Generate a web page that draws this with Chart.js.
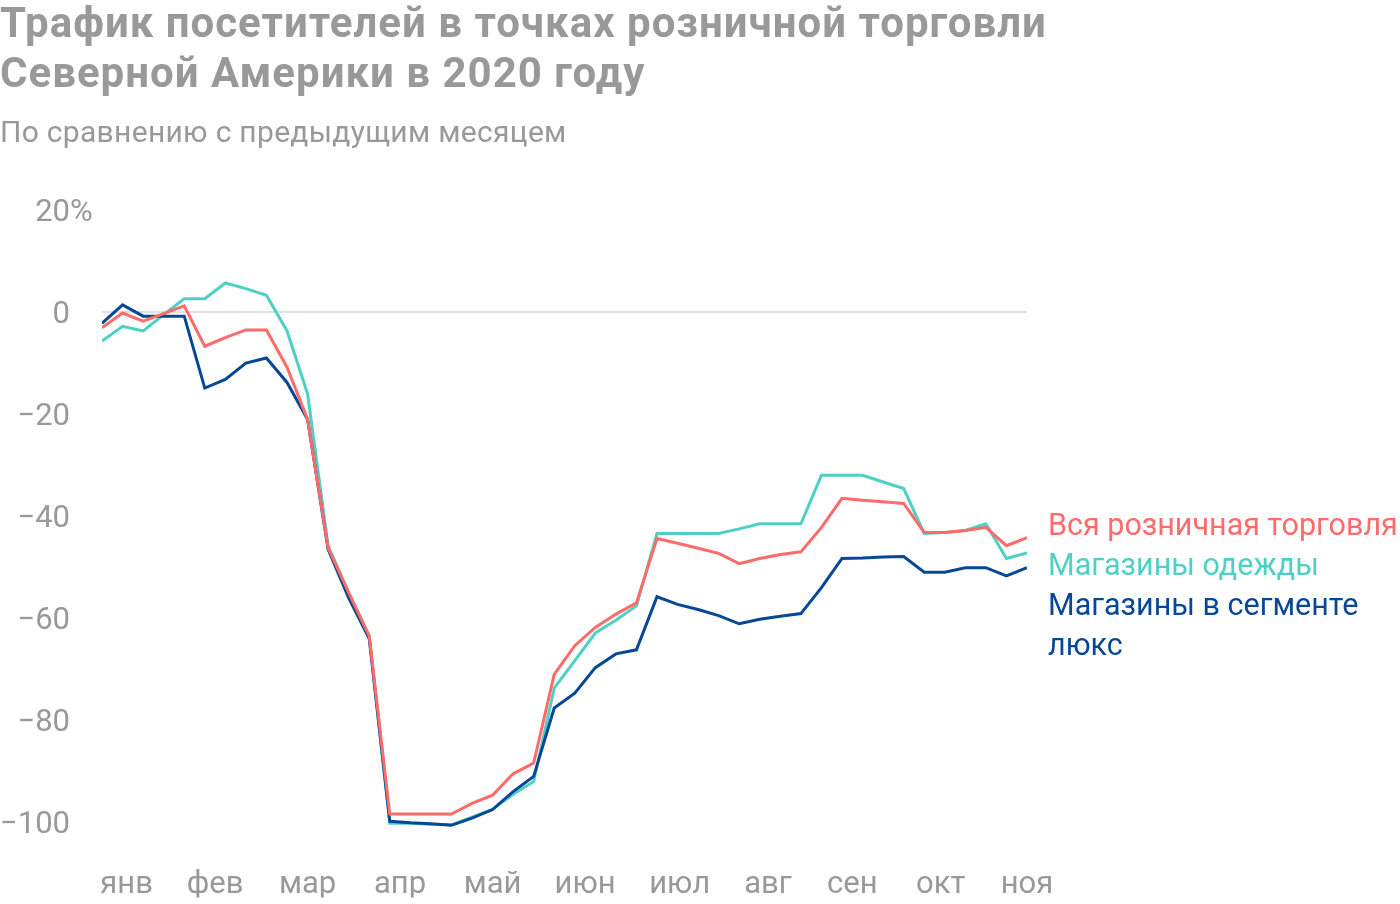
<!DOCTYPE html>
<html lang="ru">
<head>
<meta charset="utf-8">
<title>Трафик посетителей</title>
<script src="https://cdn.jsdelivr.net/npm/chart.js@4"></script>
<style>
  html, body { margin: 0; padding: 0; background: #fff; }
  #wrap { position: relative; width: 1400px; height: 904px; }
  #title {
    position: absolute; left: 0; top: -2px;
    font: bold 42px/50px Roboto, sans-serif; color: #999;
    letter-spacing: 1px;
    white-space: nowrap;
  }
  #subtitle {
    position: absolute; left: 0; top: 114px;
    font: 30px/36px Roboto, sans-serif; color: #999;
    letter-spacing: 0.3px;
    white-space: nowrap;
  }
  canvas { position: absolute; left: 0; top: 0; }
</style>
</head>
<body>
<div id="wrap">
  <canvas id="chart" width="1400" height="904"></canvas>
  <div id="title">Трафик посетителей в точках розничной торговли<br>Северной Америки в 2020 году</div>
  <div id="subtitle">По сравнению с предыдущим месяцем</div>
</div>
<script>
// weekly points, week number of 2020
var weeks = [1, 2, 3, 4, 5, 6, 7, 8, 9, 10, 11, 12, 13, 14, 15, 16, 17, 18, 19, 20, 21, 22, 23,
  24, 25, 26, 27, 28, 29, 30, 31, 32, 33, 34, 35, 36, 37, 38, 39, 40, 41, 42, 43, 44, 45, 46];

// month labels and where they sit on the week axis
var months = ["янв", "фев", "мар", "апр", "май", "июн", "июл", "авг", "сен", "окт", "ноя"];
var monthTicks = [2.2, 6.5, 11.0, 15.5, 20.0, 24.5, 29.1, 33.4, 37.5, 41.8, 46.0];

var yTicks = [20, 0, -20, -40, -60, -80, -100];

// % vs previous month
var allRetail = [-3.1, -0.2, -1.8, -0.3, 1.2, -6.7, -5.0, -3.5, -3.5, -10.8, -21, -46.2, -55, -63.5,
  -98.4, -98.4, -98.4, -98.4, -96.3, -94.7, -90.5, -88.4, -71, -65.4, -61.8, -59.2, -57, -44.4,
  -45.3, -46.3, -47.3, -49.3, -48.3, -47.5, -47, -42.2, -36.5, -36.9, -37.2, -37.5, -43.2, -43.2,
  -42.8, -42.2, -45.8, -44.2];

var apparel = [-5.7, -2.8, -3.7, -0.5, 2.6, 2.6, 5.7, 4.6, 3.3, -3.7, -16, -45.8, -55, -63.5,
  -100.2, -100.2, -100.4, -100.5, -99, -97.5, -94.5, -92, -73.7, -68.3, -62.9, -60.4, -57.6, -43.4,
  -43.4, -43.4, -43.4, -42.5, -41.5, -41.5, -41.5, -32, -32, -32, -33.3, -34.6, -43.4, -43.2,
  -42.8, -41.5, -48.3, -47.2];

var luxury = [-2.2, 1.4, -0.8, -0.8, -0.8, -14.9, -13.2, -10.0, -9.0, -13.8, -21, -46.5, -56, -64,
  -99.8, -100.1, -100.3, -100.6, -99.2, -97.5, -94, -91, -77.6, -74.7, -69.7, -67, -66.2, -55.8,
  -57.3, -58.3, -59.5, -61.1, -60.2, -59.6, -59.1, -54, -48.3, -48.2, -48.0, -47.9, -51, -51,
  -50.1, -50.1, -51.7, -50.1];

var RED = "#ff6b68";
var TEAL = "#4fd0c4";
var NAVY = "#064796";
var GRAY = "#999999";

function points(values) {
  return weeks.map((w, i) => ({ x: w, y: values[i] }));
}

// legend text at the right of the plot
var sideLabels = {
  id: "sideLabels",
  afterDraw(chart) {
    const ctx = chart.ctx;
    const x = chart.chartArea.right + 21;
    ctx.save();
    ctx.font = "30.5px Roboto, sans-serif";
    ctx.textAlign = "left";
    ctx.textBaseline = "middle";
    const rows = [
      ["Вся розничная торговля", RED, 527],
      ["Магазины одежды", TEAL, 567],
      ["Магазины в сегменте", NAVY, 607],
      ["люкс", NAVY, 647],
    ];
    rows.forEach((r) => {
      ctx.fillStyle = r[1];
      ctx.fillText(r[0], x, r[2]);
    });

    // the "%" hangs after the top tick
    const yScale = chart.scales.y;
    ctx.font = "31px Roboto, sans-serif";
    ctx.fillStyle = GRAY;
    ctx.fillText("%", chart.chartArea.left - 32, yScale.getPixelForValue(20) + 3);
    ctx.restore();
  },
};

var ctx = document.getElementById("chart");
var chart = new Chart(ctx, {
  type: "line",
  data: {
    datasets: [
      { label: "Вся розничная торговля", data: points(allRetail), borderColor: RED, order: 0 },
      { label: "Магазины в сегменте люкс", data: points(luxury), borderColor: NAVY, order: 1 },
      { label: "Магазины одежды", data: points(apparel), borderColor: TEAL, order: 2 },
    ],
  },
  options: {
    responsive: false,
    animation: false,
    layout: { padding: { top: 210, left: 0, right: 373, bottom: 0 } },
    elements: {
      line: { borderWidth: 3, tension: 0, borderJoinStyle: "miter", fill: false },
      point: { radius: 0, hoverRadius: 0 },
    },
    plugins: {
      legend: { display: false },
      tooltip: { enabled: false },
    },
    scales: {
      x: {
        type: "linear",
        min: 1,
        max: 46,
        grid: { display: false, drawTicks: false, tickLength: 0 },
        border: { display: false },
        afterBuildTicks: (scale) => {
          scale.ticks = monthTicks.map((v) => ({ value: v }));
        },
        afterFit: (scale) => {
          scale.height = 44;
        },
        ticks: {
          autoSkip: false,
          maxRotation: 0,
          padding: 13,
          color: GRAY,
          font: { family: "Roboto", size: 31 },
          callback: (value, index) => months[index],
        },
      },
      y: {
        min: -106.1,
        max: 20,
        grid: {
          drawTicks: false,
          tickLength: 0,
          lineWidth: 2,
          color: (c) => (c.tick && c.tick.value === 0 ? "#e0e0e0" : "rgba(0,0,0,0)"),
        },
        border: { display: false },
        afterBuildTicks: (scale) => {
          scale.ticks = yTicks.map((v) => ({ value: v }));
        },
        afterFit: (scale) => {
          scale.width = 102;
        },
        ticks: {
          padding: 32,
          labelOffset: 3,
          color: GRAY,
          font: { family: "Roboto", size: 31 },
          callback: (value) => (value > 0 ? String(value) : value === 0 ? "0" : "\u2212" + Math.abs(value)),
        },
      },
    },
  },
  plugins: [sideLabels],
});
</script>
</body>
</html>
